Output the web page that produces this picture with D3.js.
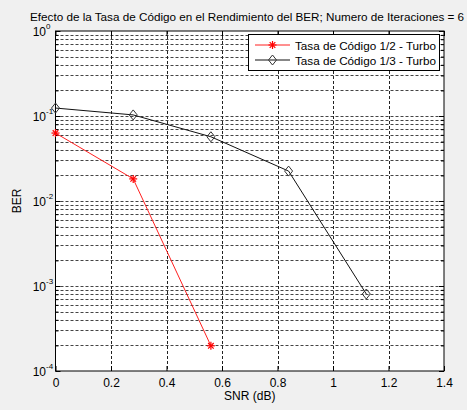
<!DOCTYPE html>
<html><head><meta charset="utf-8">
<script src="https://cdn.jsdelivr.net/npm/d3@7"></script>
<style>body{margin:0;background:#f0f0f0;}svg{display:block;font-family:"Liberation Sans",Arial,sans-serif;}</style>
</head><body>
<script>
const titleText = "Efecto de la Tasa de Código en el Rendimiento del BER; Numero de Iteraciones = 6";
const xLabel = "SNR (dB)";
const yLabel = "BER";
const seriesNames = ["Tasa de Código 1/2 - Turbo", "Tasa de Código 1/3 - Turbo"];
const snrHalf = [0, 0.28, 0.56];
const berHalf = [0.063, 0.0182, 0.000198];
const snrThird = [0, 0.28, 0.56, 0.84, 1.12];
const berThird = [0.124, 0.103, 0.057, 0.0225, 0.000805];
const xTicks = [0, 0.2, 0.4, 0.6, 0.8, 1, 1.2, 1.4];
const yExponents = [0, -1, -2, -3, -4];

const W = 467, H = 410;
const L = 55.5, R = 444, T = 31, B = 371;
const svg = d3.select("body").append("svg").attr("width", W).attr("height", H);
svg.append("rect").attr("width", W).attr("height", H).attr("fill", "#f0f0f0");
svg.append("rect").attr("x", L).attr("y", T).attr("width", R - L).attr("height", B - T).attr("fill", "#fff");

const x = d3.scaleLinear().domain([0, 1.4]).range([L, R]);
const y = d3.scaleLog().domain([1e-4, 1]).range([B, T]);

// grid
const g = svg.append("g");
const minor = [];
for (let e = -4; e < 0; e++) for (let k = 1; k <= 9; k++) minor.push(k * Math.pow(10, e));
minor.push(1);
minor.forEach(v => {
  const yy = Math.round(y(v)) + 0.5;
  if (v === 1e-4 || v === 1) return;
  g.append("line").attr("x1", L).attr("x2", R).attr("y1", yy).attr("y2", yy)
    .attr("stroke", "#444").attr("stroke-width", 1).attr("stroke-dasharray", "3,2");
});
xTicks.forEach(v => {
  if (v === 0 || v === 1.4) return;
  const xx = Math.round(x(v)) + 0.5;
  g.append("line").attr("x1", xx).attr("x2", xx).attr("y1", T).attr("y2", B)
    .attr("stroke", "#222").attr("stroke-width", 1).attr("stroke-dasharray", "3,2");
});

// axes with inward ticks
const xAxis = d3.axisBottom(x).tickValues(xTicks).tickSizeInner(-5).tickSizeOuter(0).tickFormat(d3.format("~g"));
const xa = svg.append("g").attr("transform", `translate(0,${B})`).call(xAxis);
xa.selectAll("text").attr("dy", null).attr("y", 16).attr("font-size", 12).attr("fill", "#000");
xa.select(".domain").remove();
const xTop = d3.axisTop(x).tickValues(xTicks).tickSizeInner(-5).tickSizeOuter(0).tickFormat("");
const xt = svg.append("g").attr("transform", `translate(0,${T})`).call(xTop);
xt.select(".domain").remove();

const yAxis = d3.axisLeft(y).tickValues(minor).tickSizeInner(-3).tickSizeOuter(0).tickFormat("");
const ya = svg.append("g").attr("transform", `translate(${L},0)`).call(yAxis);
ya.select(".domain").remove();
ya.selectAll(".tick line").attr("x2", d => (Math.abs(Math.log10(d) - Math.round(Math.log10(d))) < 1e-9) ? 5 : 3);
const yAxisR = d3.axisRight(y).tickValues(minor).tickSizeInner(-3).tickSizeOuter(0).tickFormat("");
const yr = svg.append("g").attr("transform", `translate(${R},0)`).call(yAxisR);
yr.select(".domain").remove();
yr.selectAll(".tick line").attr("x2", d => (Math.abs(Math.log10(d) - Math.round(Math.log10(d))) < 1e-9) ? -5 : -3);

svg.append("rect").attr("x", L).attr("y", T).attr("width", R - L).attr("height", B - T)
  .attr("fill", "none").attr("stroke", "#000").attr("stroke-width", 1);

// y tick labels 10^e
yExponents.forEach(e => {
  const yy = y(Math.pow(10, e));
  svg.append("text").attr("x", 46).attr("y", yy + 5).attr("text-anchor", "end")
    .attr("font-size", 12).attr("fill", "#000").text("10");
  svg.append("text").attr("x", 46).attr("y", yy - 2).attr("font-size", 8).attr("fill", "#000").text(e);
});

// lines
const line = d3.line().x(d => x(d[0])).y(d => y(d[1]));
const dHalf = snrHalf.map((s, i) => [s, berHalf[i]]);
const dThird = snrThird.map((s, i) => [s, berThird[i]]);
svg.append("path").datum(dHalf).attr("d", line).attr("fill", "none").attr("stroke", "#ff2020").attr("stroke-width", 1);
svg.append("path").datum(dThird).attr("d", line).attr("fill", "none").attr("stroke", "#111").attr("stroke-width", 1);

function star(sel, cx, cy, col) {
  const r = 4;
  const a = [[-r, 0, r, 0], [0, -r, 0, r], [-r * 0.7, -r * 0.7, r * 0.7, r * 0.7], [-r * 0.7, r * 0.7, r * 0.7, -r * 0.7]];
  a.forEach(p => sel.append("line").attr("x1", cx + p[0]).attr("y1", cy + p[1]).attr("x2", cx + p[2]).attr("y2", cy + p[3])
    .attr("stroke", col).attr("stroke-width", 1.2));
}
function diamond(sel, cx, cy, col) {
  sel.append("path").attr("d", `M${cx},${cy - 5}L${cx + 4},${cy}L${cx},${cy + 5}L${cx - 4},${cy}Z`)
    .attr("fill", "none").attr("stroke", col).attr("stroke-width", 1);
}
const mk = svg.append("g");
dHalf.forEach(d => star(mk, x(d[0]), y(d[1]), "#ff0000"));
dThird.forEach(d => diamond(mk, x(d[0]), y(d[1]), "#333"));

// legend
const lg = svg.append("g");
lg.append("rect").attr("x", 248.5).attr("y", 34.5).attr("width", 191).attr("height", 36)
  .attr("fill", "#fff").attr("stroke", "#000").attr("stroke-width", 1);
lg.append("line").attr("x1", 255).attr("x2", 290).attr("y1", 45).attr("y2", 45).attr("stroke", "#ff2020");
star(lg, 272.5, 45, "#ff0000");
lg.append("line").attr("x1", 255).attr("x2", 290).attr("y1", 60).attr("y2", 60).attr("stroke", "#111");
diamond(lg, 272.5, 60, "#333");
lg.append("text").attr("x", 295).attr("y", 49.5).attr("font-size", 11.7).text(seriesNames[0]);
lg.append("text").attr("x", 295).attr("y", 64.5).attr("font-size", 11.7).text(seriesNames[1]);

// labels
svg.append("text").attr("x", 30).attr("y", 21).attr("font-size", 11.7).attr("fill", "#000").text(titleText);
svg.append("text").attr("x", (L + R) / 2).attr("y", 400).attr("text-anchor", "middle").attr("font-size", 12).text(xLabel);
svg.append("text").attr("transform", `translate(21,${(T + B) / 2}) rotate(-90)`).attr("text-anchor", "middle")
  .attr("font-size", 12).text(yLabel);
</script>
</body></html>
